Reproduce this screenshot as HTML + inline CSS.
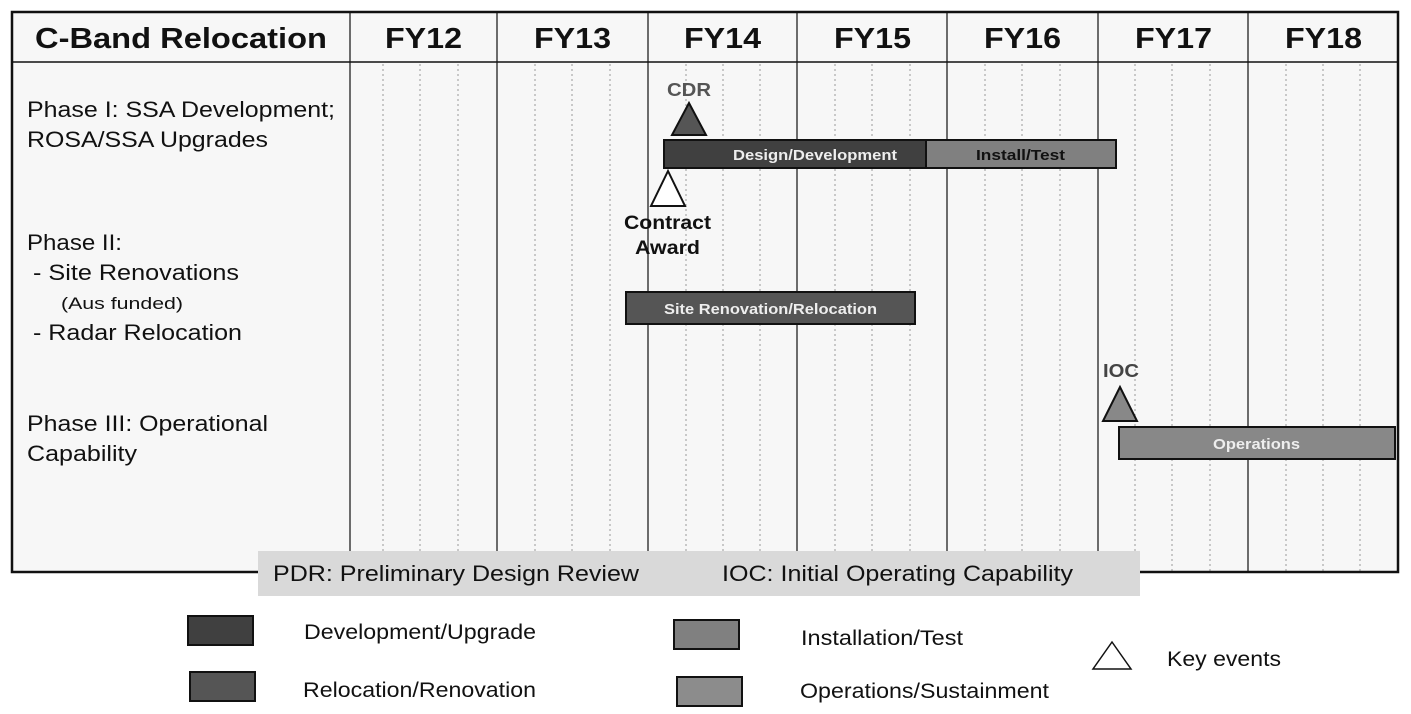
<!DOCTYPE html>
<html><head><meta charset="utf-8"><style>
body{margin:0;background:#fff;}
svg{display:block;font-family:"Liberation Sans",Arial,sans-serif;}
</style></head><body>
<svg width="1411" height="714" viewBox="0 0 1411 714" xmlns="http://www.w3.org/2000/svg">
<rect x="0" y="0" width="1411" height="714" fill="#fff"/>
<rect x="12" y="12" width="1386" height="560" fill="#f7f7f7"/>
<g stroke="#999" stroke-width="1" stroke-dasharray="2,3">
<line x1="383" y1="64" x2="383" y2="572"/><line x1="420" y1="64" x2="420" y2="572"/><line x1="458" y1="64" x2="458" y2="572"/>
<line x1="535" y1="64" x2="535" y2="572"/><line x1="572" y1="64" x2="572" y2="572"/><line x1="610" y1="64" x2="610" y2="572"/>
<line x1="686" y1="64" x2="686" y2="572"/><line x1="723" y1="64" x2="723" y2="572"/><line x1="760" y1="64" x2="760" y2="572"/>
<line x1="835" y1="64" x2="835" y2="572"/><line x1="872" y1="64" x2="872" y2="572"/><line x1="910" y1="64" x2="910" y2="572"/>
<line x1="985" y1="64" x2="985" y2="572"/><line x1="1022" y1="64" x2="1022" y2="572"/><line x1="1060" y1="64" x2="1060" y2="572"/>
<line x1="1135" y1="64" x2="1135" y2="572"/><line x1="1172" y1="64" x2="1172" y2="572"/><line x1="1210" y1="64" x2="1210" y2="572"/>
<line x1="1286" y1="64" x2="1286" y2="572"/><line x1="1323" y1="64" x2="1323" y2="572"/><line x1="1360" y1="64" x2="1360" y2="572"/>
</g>
<g stroke="#222" stroke-width="1.3">
<line x1="350" y1="12" x2="350" y2="572"/><line x1="497" y1="12" x2="497" y2="572"/><line x1="648" y1="12" x2="648" y2="572"/>
<line x1="797" y1="12" x2="797" y2="572"/><line x1="947" y1="12" x2="947" y2="572"/><line x1="1098" y1="12" x2="1098" y2="572"/><line x1="1248" y1="12" x2="1248" y2="572"/>
</g>
<line x1="12" y1="62" x2="1398" y2="62" stroke="#111" stroke-width="1.5"/>
<rect x="12" y="12" width="1386" height="560" fill="none" stroke="#111" stroke-width="2.5"/>
<g font-weight="bold" font-size="29" fill="#111" lengthAdjust="spacingAndGlyphs">
<text x="35" y="48" textLength="292" lengthAdjust="spacingAndGlyphs">C-Band Relocation</text>
<text x="385" y="48" textLength="77" lengthAdjust="spacingAndGlyphs">FY12</text>
<text x="534" y="48" textLength="77" lengthAdjust="spacingAndGlyphs">FY13</text>
<text x="684" y="48" textLength="77" lengthAdjust="spacingAndGlyphs">FY14</text>
<text x="834" y="48" textLength="77" lengthAdjust="spacingAndGlyphs">FY15</text>
<text x="984" y="48" textLength="77" lengthAdjust="spacingAndGlyphs">FY16</text>
<text x="1135" y="48" textLength="77" lengthAdjust="spacingAndGlyphs">FY17</text>
<text x="1285" y="48" textLength="77" lengthAdjust="spacingAndGlyphs">FY18</text>
</g>
<g font-size="22" fill="#111">
<text x="27" y="117" textLength="308" lengthAdjust="spacingAndGlyphs">Phase I: SSA Development;</text>
<text x="27" y="147" textLength="241" lengthAdjust="spacingAndGlyphs">ROSA/SSA Upgrades</text>
<text x="27" y="250" textLength="95" lengthAdjust="spacingAndGlyphs">Phase II:</text>
<text x="33" y="280" textLength="206" lengthAdjust="spacingAndGlyphs">- Site Renovations</text>
<text x="61" y="309" font-size="17" textLength="122" lengthAdjust="spacingAndGlyphs">(Aus funded)</text>
<text x="33" y="340" textLength="209" lengthAdjust="spacingAndGlyphs">- Radar Relocation</text>
<text x="27" y="431" textLength="241" lengthAdjust="spacingAndGlyphs">Phase III: Operational</text>
<text x="27" y="461" textLength="110" lengthAdjust="spacingAndGlyphs">Capability</text>
</g>
<rect x="664" y="140" width="262" height="28" fill="#404040" stroke="#111" stroke-width="2"/>
<rect x="926" y="140" width="190" height="28" fill="#808080" stroke="#111" stroke-width="2"/>
<rect x="626" y="292" width="289" height="32" fill="#555" stroke="#111" stroke-width="2"/>
<rect x="1119" y="427" width="276" height="32" fill="#888" stroke="#111" stroke-width="2"/>
<g font-weight="bold" font-size="15">
<text x="733" y="160" fill="#eee" textLength="164" lengthAdjust="spacingAndGlyphs">Design/Development</text>
<text x="976" y="160" fill="#111" textLength="89" lengthAdjust="spacingAndGlyphs">Install/Test</text>
<text x="664" y="314" fill="#eee" textLength="213" lengthAdjust="spacingAndGlyphs">Site Renovation/Relocation</text>
<text x="1213" y="449" fill="#eee" textLength="87" lengthAdjust="spacingAndGlyphs">Operations</text>
</g>
<polygon points="689,103 672,135 706,135" fill="#555" stroke="#111" stroke-width="2"/>
<polygon points="668,171 651,206 685,206" fill="#fff" stroke="#111" stroke-width="2"/>
<polygon points="1120,387 1103,421 1137,421" fill="#888" stroke="#111" stroke-width="2"/>
<g font-weight="bold">
<text x="667" y="96" font-size="18" fill="#555" textLength="44" lengthAdjust="spacingAndGlyphs">CDR</text>
<text x="624" y="229" font-size="19" fill="#111" textLength="87" lengthAdjust="spacingAndGlyphs">Contract</text>
<text x="635" y="254" font-size="19" fill="#111" textLength="65" lengthAdjust="spacingAndGlyphs">Award</text>
<text x="1103" y="377" font-size="18" fill="#444" textLength="36" lengthAdjust="spacingAndGlyphs">IOC</text>
</g>
<rect x="258" y="551" width="882" height="45" fill="#d9d9d9"/>
<g font-size="22" fill="#111">
<text x="273" y="581" textLength="366" lengthAdjust="spacingAndGlyphs">PDR: Preliminary Design Review</text>
<text x="722" y="581" textLength="351" lengthAdjust="spacingAndGlyphs">IOC: Initial Operating Capability</text>
</g>
<rect x="188" y="616" width="65" height="29" fill="#404040" stroke="#111" stroke-width="2"/>
<rect x="190" y="672" width="65" height="29" fill="#555" stroke="#111" stroke-width="2"/>
<rect x="674" y="620" width="65" height="29" fill="#808080" stroke="#111" stroke-width="2"/>
<rect x="677" y="677" width="65" height="29" fill="#8c8c8c" stroke="#111" stroke-width="2"/>
<polygon points="1112,642 1093,669 1131,669" fill="#fff" stroke="#111" stroke-width="1.5"/>
<g font-size="21" fill="#111">
<text x="304" y="639" textLength="232" lengthAdjust="spacingAndGlyphs">Development/Upgrade</text>
<text x="303" y="697" textLength="233" lengthAdjust="spacingAndGlyphs">Relocation/Renovation</text>
<text x="801" y="645" textLength="162" lengthAdjust="spacingAndGlyphs">Installation/Test</text>
<text x="800" y="698" textLength="249" lengthAdjust="spacingAndGlyphs">Operations/Sustainment</text>
<text x="1167" y="666" textLength="114" lengthAdjust="spacingAndGlyphs">Key events</text>
</g>
</svg>
</body></html>
